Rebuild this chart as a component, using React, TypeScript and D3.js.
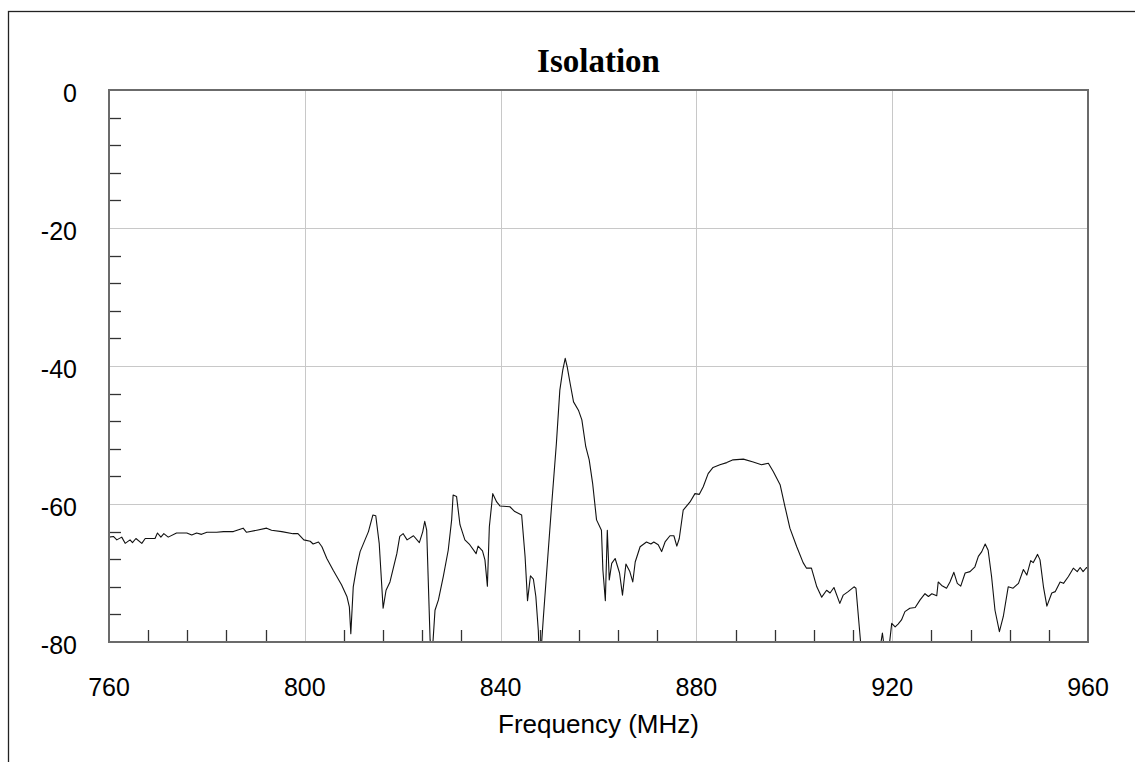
import React from "react";
import * as d3 from "d3";

// frequency (MHz) and isolation (dB)
const freq = [
  760.0, 760.9, 761.6, 762.6, 763.3, 764.3, 764.8, 765.5, 766.7, 767.4,
  769.4, 769.9, 770.6, 771.2, 772.1, 773.8, 775.9, 776.9, 777.9, 778.9,
  780.0, 782.0, 783.4, 785.4, 787.4, 788.1, 790.2, 792.2, 793.2, 795.3,
  797.6, 798.6, 799.8, 801.1, 801.7, 802.8, 803.5, 804.5, 805.8, 807.5,
  808.6, 809.1, 809.4, 809.9, 810.6, 811.3, 812.3, 813.0, 813.9, 814.5,
  815.2, 816.0, 816.6, 817.4, 818.8, 819.4, 820.1, 820.9, 822.2, 823.4,
  824.1, 824.5, 824.9, 825.6, 826.0, 826.6, 827.3, 828.3, 829.3, 830.0,
  830.3, 831.0, 831.7, 832.7, 833.7, 835.0, 835.4, 836.3, 836.8, 837.3,
  837.7, 838.4, 839.2, 839.9, 841.9, 842.9, 844.3, 845.0, 845.5, 846.1,
  846.7, 847.2, 847.7, 847.9, 848.2, 848.7, 849.4, 850.4, 851.4, 852.1,
  852.7, 853.2, 853.6, 854.2, 854.9, 855.9, 856.6, 857.4, 858.1, 858.8,
  859.6, 860.6, 860.9, 861.4, 861.8, 862.2, 862.7, 863.4, 864.3, 864.9,
  865.6, 866.4, 867.0, 867.5, 868.5, 869.8, 870.7, 871.3, 872.2, 872.9,
  873.6, 874.6, 875.4, 876.0, 876.5, 877.3, 878.7, 879.7, 880.6, 881.4,
  882.4, 883.4, 884.8, 886.2, 887.5, 889.6, 891.6, 893.3, 894.7, 895.7,
  897.1, 898.1, 899.1, 900.5, 901.8, 902.5, 903.5, 904.6, 905.6, 906.6,
  907.3, 908.1, 909.3, 910.0, 911.0, 912.2, 912.6, 913.6, 914.0, 917.1,
  917.5, 918.0, 918.4, 918.7, 919.4, 919.9, 920.6, 921.2, 921.9, 922.6,
  923.6, 924.7, 925.7, 926.7, 927.4, 928.1, 929.1, 929.4, 930.1, 931.1,
  931.8, 932.6, 933.3, 934.0, 934.9, 935.9, 936.9, 937.6, 938.3, 939.0,
  939.6, 940.3, 941.0, 941.9, 942.7, 943.7, 944.7, 945.8, 946.8, 947.5,
  948.3, 948.8, 949.7, 950.2, 950.9, 951.6, 952.6, 953.3, 954.3, 955.0,
  956.0, 957.0, 957.8, 958.4, 959.0, 959.7, 960.0,
];

const isolation = [
  -64.8, -64.7, -65.2, -64.8, -65.7, -65.2, -65.6, -65.0, -65.7, -65.0,
  -65.0, -64.2, -64.8, -64.3, -64.8, -64.2, -64.2, -64.5, -64.2, -64.4,
  -64.1, -64.1, -64.0, -64.0, -63.5, -64.1, -63.8, -63.5, -63.8, -64.0,
  -64.3, -64.3, -65.2, -65.4, -65.8, -65.5, -66.2, -67.9, -69.6, -71.7,
  -73.4, -74.9, -78.8, -72.0, -69.1, -66.9, -65.2, -64.0, -61.6, -61.7,
  -65.7, -75.1, -72.5, -71.3, -67.2, -64.7, -64.3, -65.2, -64.6, -65.6,
  -64.0, -62.5, -63.8, -79.7, -82.0, -75.4, -73.9, -70.5, -66.7, -62.3,
  -58.7, -58.9, -63.0, -65.2, -65.9, -67.2, -66.1, -66.8, -68.1, -71.9,
  -63.3, -58.5, -59.7, -60.3, -60.4, -61.1, -61.6, -67.6, -74.0, -70.4,
  -70.9, -73.4, -78.3, -82.0, -82.0, -76.8, -70.0, -60.4, -51.2, -43.5,
  -40.6, -38.9, -40.1, -42.5, -45.2, -46.4, -47.8, -51.7, -53.6, -57.0,
  -62.3, -63.8, -69.6, -74.0, -63.8, -71.0, -68.6, -67.9, -70.0, -73.2,
  -68.7, -69.8, -71.3, -68.4, -66.2, -65.5, -65.8, -65.5, -65.9, -66.9,
  -65.5, -64.6, -64.6, -66.1, -65.0, -60.9, -59.7, -58.5, -58.6, -57.5,
  -55.6, -54.7, -54.3, -54.0, -53.6, -53.5, -53.9, -54.3, -54.1, -55.3,
  -57.2, -60.4, -63.5, -66.2, -68.5, -69.3, -69.3, -72.0, -73.5, -72.5,
  -72.9, -72.1, -74.4, -73.2, -72.7, -72.0, -72.2, -80.5, -84.0, -84.0,
  -81.0, -78.7, -81.0, -84.0, -80.5, -77.3, -77.8, -77.4, -76.8, -75.6,
  -75.1, -75.0, -73.9, -73.0, -73.4, -73.0, -73.3, -71.3, -71.8, -72.2,
  -71.3, -69.9, -71.5, -71.9, -70.0, -69.8, -69.1, -67.6, -66.9, -65.8,
  -66.7, -70.5, -75.4, -78.5, -76.3, -72.0, -72.2, -71.5, -69.5, -70.3,
  -68.2, -68.5, -67.3, -68.1, -72.0, -74.8, -72.9, -72.7, -71.3, -71.5,
  -70.5, -69.3, -69.8, -69.2, -69.8, -69.2, -69.4,
];

const xMajor = [760, 800, 840, 880, 920, 960];
const yMajor = [0, -20, -40, -60, -80];

const chartTitle = "Isolation";
const xTitle = "Frequency (MHz)";

const W = 1135;
const H = 762;
const plot = { left: 109, top: 90, right: 1088, bottom: 642 };
const frameColor = "#6b6b6b";
const gridColor = "#c8c8c8";
const sans = "'Liberation Sans', Arial, sans-serif";

export default function App() {
  const x = d3.scaleLinear().domain([760, 960]).range([plot.left, plot.right]);
  const y = d3.scaleLinear().domain([-80, 0]).range([plot.bottom, plot.top]);

  const points = freq.map((f, i) => [f, isolation[i]] as [number, number]);
  const line = d3
    .line<[number, number]>()
    .x((d) => x(d[0]))
    .y((d) => y(d[1]));

  // four minor ticks between majors, majors get a grid line instead
  const xMinor = d3.range(768, 960, 8).filter((v) => (v - 760) % 40 !== 0);
  const yMinor = d3.range(-76, 0, 4).filter((v) => v % 20 !== 0);
  const tickLen = 12;

  return (
    <svg
      width={W}
      height={H}
      style={{ position: "absolute", left: 0, top: 0, background: "#fff" }}
    >
      <rect
        x={8.5}
        y={11.5}
        width={1200}
        height={800}
        fill="none"
        stroke="#222"
        strokeWidth={1.3}
      />

      <text
        x={(plot.left + plot.right) / 2}
        y={72}
        textAnchor="middle"
        fontFamily="'Liberation Serif', 'Times New Roman', serif"
        fontWeight="bold"
        fontSize={33}
        fill="#000"
      >
        {chartTitle}
      </text>

      <defs>
        <clipPath id="plotClip">
          <rect
            x={plot.left}
            y={plot.top}
            width={plot.right - plot.left}
            height={plot.bottom - plot.top}
          />
        </clipPath>
      </defs>

      {/* grid */}
      <g stroke={gridColor} strokeWidth={1}>
        {xMajor.slice(1, -1).map((v) => (
          <line
            key={"gx" + v}
            x1={Math.round(x(v)) + 0.5}
            x2={Math.round(x(v)) + 0.5}
            y1={plot.top}
            y2={plot.bottom}
          />
        ))}
        {yMajor.slice(1, -1).map((v) => (
          <line
            key={"gy" + v}
            x1={plot.left}
            x2={plot.right}
            y1={Math.round(y(v)) + 0.5}
            y2={Math.round(y(v)) + 0.5}
          />
        ))}
      </g>

      {/* minor ticks */}
      <g stroke="#333" strokeWidth={1.3}>
        {xMinor.map((v) => (
          <line
            key={"tx" + v}
            x1={Math.round(x(v)) + 0.5}
            x2={Math.round(x(v)) + 0.5}
            y1={plot.bottom}
            y2={plot.bottom - tickLen}
          />
        ))}
        {yMinor.map((v) => (
          <line
            key={"ty" + v}
            x1={plot.left}
            x2={plot.left + tickLen}
            y1={Math.round(y(v)) + 0.5}
            y2={Math.round(y(v)) + 0.5}
          />
        ))}
      </g>

      <path
        d={line(points) || ""}
        fill="none"
        stroke="#111"
        strokeWidth={1.1}
        strokeLinejoin="round"
        clipPath="url(#plotClip)"
      />

      <rect
        x={plot.left}
        y={plot.top}
        width={plot.right - plot.left}
        height={plot.bottom - plot.top}
        fill="none"
        stroke={frameColor}
        strokeWidth={2}
      />

      {/* tick labels */}
      <g fontFamily={sans} fontSize={25} fill="#000">
        {xMajor.map((v) => (
          <text key={"lx" + v} x={x(v)} y={696} textAnchor="middle">
            {v}
          </text>
        ))}
        {yMajor.map((v) => (
          <text key={"ly" + v} x={77} y={y(v) + 12} textAnchor="end">
            {v}
          </text>
        ))}
      </g>

      <text
        x={(plot.left + plot.right) / 2}
        y={733}
        textAnchor="middle"
        fontFamily={sans}
        fontSize={26}
        fill="#000"
      >
        {xTitle}
      </text>
    </svg>
  );
}
